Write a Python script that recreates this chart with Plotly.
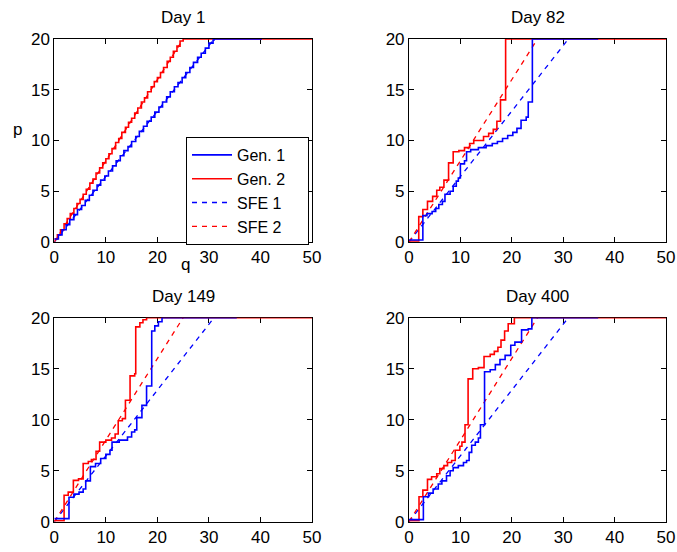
import plotly.graph_objects as go
from plotly.subplots import make_subplots

days = ["Day 1", "Day 82", "Day 149", "Day 400"]

# Gen. 1 (blue) step vertices (q, p) per day
gen1_q = {
    "Day 1": [0, 0.8, 1.5, 2.3, 3.0, 3.8, 4.5, 5.3, 6.0, 6.8, 7.5, 8.3, 9.0, 9.8, 10.5, 11.3, 12.0,
              12.8, 13.5, 14.3, 15.0, 15.8, 16.5, 17.3, 18.0, 18.8, 19.5, 20.3, 21.0, 21.8, 22.5,
              23.3, 24.0, 24.8, 25.5, 26.3, 27.0, 27.8, 28.5, 29.3, 30.0, 30.8, 31.0, 40.3],
    "Day 82": [0, 2.7, 3.5, 4.5, 5.2, 5.8, 6.5, 7.0, 8.0, 8.6, 9.2, 9.6, 10.0, 10.8, 11.2, 12.0, 13.5,
               15.0, 16.2, 17.2, 18.2, 19.2, 20.2, 21.0, 21.8, 22.8, 23.2, 24.0, 36.8],
    "Day 149": [0, 2.85, 3.8, 4.8, 5.6, 6.1, 7.0, 8.0, 9.0, 10.0, 10.8, 11.2, 12.6, 14.2, 15.0, 15.6,
                16.0, 17.0, 17.9, 18.9, 19.5, 20.2, 20.9, 35.4],
    "Day 400": [0, 2.8, 3.8, 4.7, 5.7, 6.4, 7.3, 8.0, 8.6, 9.6, 10.6, 11.2, 11.7, 12.2, 12.9, 13.5,
                13.9, 14.7, 15.8, 16.8, 17.7, 18.7, 19.8, 20.6, 21.9, 23.2, 23.9, 36.8],
}
gen1_p = {
    "Day 1": [0.3, 0.7, 1.2, 1.7, 2.2, 2.7, 3.2, 3.6, 4.1, 4.6, 5.1, 5.6, 6.1, 6.5, 7.0, 7.5, 8.0,
              8.5, 9.0, 9.4, 9.9, 10.4, 10.9, 11.4, 11.9, 12.3, 12.8, 13.3, 13.8, 14.3, 14.8,
              15.3, 15.7, 16.2, 16.7, 17.2, 17.7, 18.2, 18.6, 19.1, 19.6, 19.9, 20, 20],
    "Day 82": [0.2, 2.6, 2.8, 3.0, 3.3, 3.7, 4.0, 4.7, 5.0, 5.5, 6.0, 6.3, 7.7, 8.0, 8.9, 9.1, 9.3,
               9.5, 9.7, 9.9, 10.2, 10.5, 10.8, 11.2, 12.0, 12.3, 13.8, 20, 20],
    "Day 149": [0.3, 2.4, 2.7, 2.9, 3.2, 4.0, 5.4, 5.7, 6.2, 6.6, 7.0, 7.8, 8.0, 8.3, 8.8, 9.0,
                10.2, 11.4, 13.3, 18.7, 19.2, 19.6, 20, 20],
    "Day 400": [0.2, 2.45, 2.8, 3.2, 3.7, 4.0, 4.5, 5.0, 5.3, 5.5, 5.8, 6.0, 6.8, 7.5, 7.8, 8.2,
                9.5, 14.7, 14.9, 15.4, 15.9, 16.3, 17.3, 17.6, 18.8, 18.9, 20, 20],
}

# Gen. 2 (red) step vertices (q, p) per day
gen2_q = {
    "Day 1": [0, 0.6, 1.2, 1.9, 2.5, 3.1, 3.8, 4.4, 5.0, 5.6, 6.2, 6.9, 7.5, 8.1, 8.8, 9.4, 10.0,
              10.6, 11.2, 11.9, 12.5, 13.1, 13.8, 14.4, 15.0, 15.6, 16.2, 16.9, 17.5, 18.1, 18.8,
              19.4, 20.0, 20.6, 21.2, 21.9, 22.5, 23.1, 23.8, 24.4, 25.0, 50],
    "Day 82": [0, 1.9, 2.7, 3.6, 4.6, 5.4, 6.0, 6.8, 7.7, 8.6, 9.7, 10.8, 11.8, 12.6, 14.5, 15.5,
               16.4, 17.1, 17.8, 18.8, 50],
    "Day 149": [0, 1.9, 2.7, 3.7, 4.7, 5.6, 6.6, 7.2, 8.1, 8.8, 10.0, 11.1, 11.8, 12.4, 13.2, 13.8,
                14.7, 15.6, 15.8, 16.6, 17.2, 17.9, 50],
    "Day 400": [0, 1.95, 2.7, 3.6, 4.4, 5.4, 6.0, 6.8, 7.5, 8.3, 9.0, 9.9, 10.3, 10.9, 11.5, 12.4,
                13.5, 14.6, 15.8, 16.6, 17.3, 17.9, 18.6, 19.3, 20.5, 50],
}
gen2_p = {
    "Day 1": [0.3, 0.7, 1.2, 1.8, 2.3, 2.8, 3.3, 3.8, 4.2, 4.7, 5.2, 5.8, 6.2, 6.8, 7.3, 7.8, 8.2,
              8.7, 9.2, 9.8, 10.2, 10.8, 11.3, 11.8, 12.2, 12.7, 13.2, 13.8, 14.2, 14.8, 15.3,
              15.8, 16.2, 16.7, 17.2, 17.8, 18.2, 18.8, 19.3, 19.8, 20, 20],
    "Day 82": [0.1, 2.5, 3.2, 4.0, 4.5, 5.1, 5.4, 6.1, 7.8, 8.9, 9.0, 9.3, 9.7, 10.0, 10.4, 10.7,
               11.1, 11.9, 14.0, 20, 20],
    "Day 149": [0.1, 2.6, 2.9, 4.05, 4.2, 5.7, 5.9, 6.1, 6.9, 7.8, 8.0, 8.2, 8.6, 9.9, 10.1, 11.9,
                14.3, 14.5, 19.1, 19.5, 19.8, 20, 20],
    "Day 400": [0.1, 2.45, 3.1, 4.15, 4.4, 4.7, 5.2, 5.5, 5.8, 6.0, 7.0, 7.4, 7.8, 9.5, 14.0, 15.0,
                15.1, 16.2, 16.4, 16.7, 17.1, 17.8, 18.7, 19.4, 20, 20],
}

# SFE (linear supply function equilibrium) endpoints
sfe1_q = [0, 31]
sfe1_p = [0, 20]
sfe2_q = [0, 25]
sfe2_p = [0, 20]

x_ticks = [0, 10, 20, 30, 40, 50]
y_ticks = [0, 5, 10, 15, 20]

BLUE = "#0000ff"
RED = "#ff0000"
FONT = "Liberation Sans, Arial, sans-serif"
PAD = "&nbsp;&nbsp;&nbsp;&nbsp;"

fig = make_subplots(rows=2, cols=2)
positions = {"Day 1": (1, 1), "Day 82": (1, 2), "Day 149": (2, 1), "Day 400": (2, 2)}

for i, d in enumerate(days):
    r, c = positions[d]
    show = (i == 0)
    fig.add_trace(go.Scatter(x=sfe1_q, y=sfe1_p, mode="lines", name="SFE 1" + PAD, legendrank=3,
                             line=dict(color=BLUE, width=1.3, dash="5px,5px"), showlegend=show), row=r, col=c)
    fig.add_trace(go.Scatter(x=sfe2_q, y=sfe2_p, mode="lines", name="SFE 2" + PAD, legendrank=4,
                             line=dict(color=RED, width=1.3, dash="5px,5px"), showlegend=show), row=r, col=c)
    fig.add_trace(go.Scatter(x=gen2_q[d], y=gen2_p[d], mode="lines", name="Gen. 2" + PAD, legendrank=2,
                             line=dict(color=RED, width=1.6, shape="hv"), showlegend=show), row=r, col=c)
    fig.add_trace(go.Scatter(x=gen1_q[d], y=gen1_p[d], mode="lines", name="Gen. 1" + PAD, legendrank=1,
                             line=dict(color=BLUE, width=1.6, shape="hv"), showlegend=show), row=r, col=c)

xdom = {1: [0.0802, 0.4609], 2: [0.6041, 0.9838]}
ydom = {1: [0.5616, 0.9293], 2: [0.0549, 0.4245]}

axis_common = dict(showline=True, linecolor="black", linewidth=1, mirror="ticks",
                   ticks="inside", ticklen=5, tickcolor="black", showgrid=False, zeroline=False,
                   automargin=False, layer="below traces",
                   tickfont=dict(family=FONT, size=17, color="black"))

for d in days:
    r, c = positions[d]
    fig.update_xaxes(domain=xdom[c], range=[0, 50], tickvals=x_ticks, row=r, col=c, **axis_common)
    fig.update_yaxes(domain=ydom[r], range=[0, 20], tickvals=y_ticks, row=r, col=c, **axis_common)

title_pos = {"Day 1": (0.2705, 1 - 17 / 552), "Day 82": (0.794, 1 - 17 / 552),
             "Day 149": (0.2705, 1 - 296 / 552), "Day 400": (0.794, 1 - 296 / 552)}
annotations = []
for d in days:
    x, y = title_pos[d]
    annotations.append(dict(text=d, x=x, y=y, xref="paper", yref="paper", showarrow=False,
                            xanchor="center", yanchor="middle",
                            font=dict(family=FONT, size=17, color="black")))
annotations.append(dict(text="p", x=17 / 677, y=1 - 130 / 552, xref="paper", yref="paper",
                        showarrow=False, xanchor="center", yanchor="middle",
                        font=dict(family=FONT, size=17, color="black")))
annotations.append(dict(text="q", x=185 / 677, y=1 - 264 / 552, xref="paper", yref="paper",
                        showarrow=False, xanchor="center", yanchor="middle",
                        font=dict(family=FONT, size=17, color="black")))

fig.update_layout(
    template="none",
    width=677, height=552,
    margin=dict(l=0, r=0, t=0, b=0, autoexpand=False),
    paper_bgcolor="white", plot_bgcolor="white",
    annotations=annotations,
    showlegend=True,
    legend=dict(x=309 / 677, y=1 - 137 / 552, xanchor="right", yanchor="top",
                bgcolor="white", bordercolor="black", borderwidth=1,
                font=dict(family=FONT, size=16, color="black"),
                tracegroupgap=0, itemwidth=40),
)

fig.write_html("out.html")
